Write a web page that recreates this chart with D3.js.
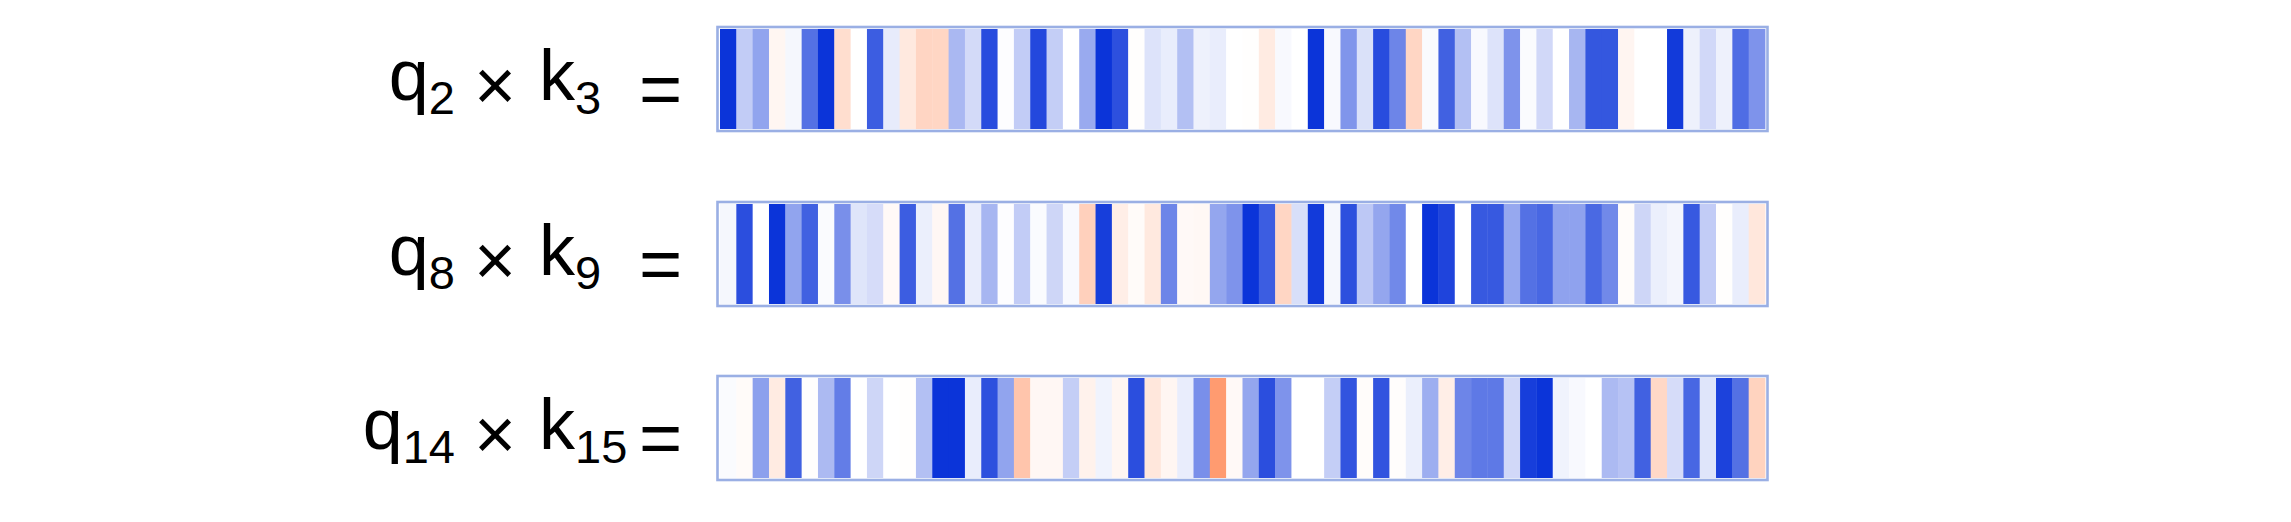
<!DOCTYPE html>
<html>
<head>
<meta charset="utf-8">
<script src="https://cdn.jsdelivr.net/npm/d3@7"></script>
<style>
  html, body { margin: 0; padding: 0; background: #ffffff; }
  svg { display: block; }
  text { font-family: "Liberation Sans", Arial, Helvetica, sans-serif; fill: #000; }
</style>
</head>
<body>
<script>
// ---------------- data ----------------
const qIndex = [2, 8, 14];
const kIndex = [3, 9, 15];

// element-wise products q_i * k_j (64 dims), normalised to [-1, 1]
const row1 = [-1.0, -0.25, -0.45, 0.08, -0.04, -0.7, -1.0, 0.3, 0.0, -0.8,
  -0.1, 0.2, 0.38, 0.37, -0.35, -0.18, -0.88, -0.01, -0.25, -0.9,
  -0.24, 0.0, -0.42, -1.0, -0.86, 0.01, -0.14, -0.09, -0.31, -0.07,
  -0.09, 0.0, 0.01, 0.18, -0.03, 0.0, -1.0, -0.03, -0.52, -0.15,
  -0.88, -0.6, 0.37, -0.02, -0.78, -0.31, -0.03, -0.14, -0.53, -0.02,
  -0.19, 0.0, -0.36, -0.83, -0.83, 0.09, 0.0, 0.0, -0.97, -0.07,
  -0.19, -0.07, -0.72, -0.53];
const row2 = [-0.04, -0.87, 0.0, -1.0, -0.45, -0.78, -0.02, -0.55, -0.13, -0.17,
  0.05, -0.8, -0.08, 0.07, -0.7, -0.09, -0.36, -0.01, -0.25, -0.02,
  -0.2, -0.03, 0.42, -0.95, 0.15, 0.04, 0.2, -0.6, 0.05, 0.06,
  -0.44, -0.53, -1.0, -0.8, 0.37, -0.16, -0.97, -0.04, -0.86, -0.27,
  -0.44, -0.58, 0.0, -1.0, -0.92, 0.0, -0.82, -0.82, -0.43, -0.7,
  -0.75, -0.46, -0.46, -0.74, -0.58, 0.03, -0.2, -0.08, -0.05, -0.82,
  -0.25, 0.01, -0.09, 0.22];
const row3 = [-0.02, 0.04, -0.47, 0.18, -0.78, 0.01, -0.34, -0.64, 0.0, -0.2,
  0.0, 0.01, -0.31, -1.0, -1.0, -0.09, -0.86, -0.45, 0.52, 0.07,
  0.07, -0.24, 0.12, -0.06, 0.08, -0.87, 0.22, 0.08, -0.09, -0.55,
  0.9, 0.05, -0.44, -0.87, -0.53, 0.0, 0.0, -0.24, -0.84, 0.03,
  -0.84, 0.02, -0.08, -0.4, 0.15, -0.6, -0.66, -0.66, -0.19, -0.95,
  -1.0, -0.06, -0.03, 0.0, -0.34, -0.3, -0.78, 0.35, -0.17, -0.75,
  -0.13, -0.93, -0.7, 0.4];
const rows = [row1, row2, row3];

// ---------------- layout ----------------
const W = 2291, H = 522;
const barX0 = 720, barX1 = 1765;
const barH = 100;
const centers = [79, 254, 428];

const svg = d3.select("body").append("svg")
  .attr("width", W).attr("height", H);

const x = d3.scaleBand().domain(d3.range(64)).range([barX0, barX1]).padding(0);
const y = d3.scaleOrdinal().domain(d3.range(3)).range(centers);
const color = d3.scaleLinear()
  .domain([-1, 0, 1])
  .range(["#0b34d9", "#ffffff", "#ff9060"])
  .clamp(true);

rows.forEach((vals, r) => {
  const cy = y(r);
  const g = svg.append("g");
  g.selectAll("rect.cell")
    .data(vals)
    .join("rect")
    .attr("class", "cell")
    .attr("x", (d, i) => x(i))
    .attr("y", cy - barH / 2)
    .attr("width", x.bandwidth() + 0.4)
    .attr("height", barH)
    .attr("fill", d => color(d));
  g.append("rect")
    .attr("x", barX0 - 2.5)
    .attr("y", cy - barH / 2 - 2)
    .attr("width", (barX1 - barX0) + 5)
    .attr("height", barH + 4)
    .attr("fill", "none")
    .attr("stroke", "#9aafe4")
    .attr("stroke-width", 2.6);

  // label
  const base = cy + 21;
  const tq = svg.append("text")
    .attr("x", 455).attr("y", base)
    .attr("text-anchor", "end")
    .attr("font-size", 72);
  tq.append("tspan").text("q");
  tq.append("tspan").attr("dy", 14).attr("font-size", 47).text(qIndex[r]);

  svg.append("text")
    .attr("x", 495).attr("y", base + 10)
    .attr("text-anchor", "middle")
    .attr("font-size", 72)
    .text("\u00D7");

  const tk = svg.append("text")
    .attr("x", 539).attr("y", base)
    .attr("text-anchor", "start")
    .attr("font-size", 72);
  tk.append("tspan").text("k");
  tk.append("tspan").attr("dy", 14).attr("font-size", 47).text(kIndex[r]);

  svg.append("text")
    .attr("x", 639).attr("y", base + 14)
    .attr("text-anchor", "start")
    .attr("font-size", 74)
    .text("=");
});
</script>
</body>
</html>
